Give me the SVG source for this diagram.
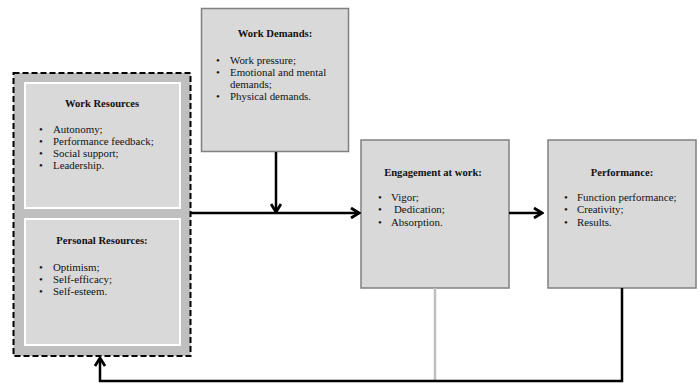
<svg xmlns="http://www.w3.org/2000/svg" width="700" height="385" viewBox="0 0 700 385">
<defs>
<style>
.box{fill:#d9d9d9;stroke:#808080;stroke-width:1.5}
.inner{fill:#d9d9d9;stroke:#ffffff;stroke-width:2}
.t{font-family:"Liberation Serif","Times New Roman",serif;font-size:10.9px;fill:#111}
.h{font-weight:bold;text-anchor:middle;font-size:10.6px}
.ln{fill:none;stroke:#000;stroke-width:2.5}
</style>
<marker id="ah" viewBox="0 0 12 12" refX="10" refY="6" markerWidth="12" markerHeight="12" markerUnits="userSpaceOnUse" orient="auto">
<polyline points="2,1 10,6 2,11" fill="none" stroke="#000" stroke-width="2.8"/>
</marker>
</defs>
<rect width="700" height="385" fill="#fff"/>
<g id="resources">
<rect x="13.5" y="73" width="177" height="283" fill="#bfbfbf" stroke="#000" stroke-width="2" stroke-dasharray="6,3"/>
</g>
<g id="work-resources">
<rect class="inner" x="25" y="83" width="155" height="125"/>
<text class="t h" x="102" y="107">Work Resources</text>
<text class="t" x="39" y="133">•</text><text class="t" x="53" y="133">Autonomy;</text>
<text class="t" x="39" y="145">•</text><text class="t" x="53" y="145">Performance feedback;</text>
<text class="t" x="39" y="157">•</text><text class="t" x="53" y="157">Social support;</text>
<text class="t" x="39" y="169">•</text><text class="t" x="53" y="169">Leadership.</text>
</g>
<g id="personal-resources">
<rect class="inner" x="25" y="219" width="155" height="126"/>
<text class="t h" x="102" y="244">Personal Resources:</text>
<text class="t" x="39" y="271">•</text><text class="t" x="53" y="271">Optimism;</text>
<text class="t" x="39" y="283">•</text><text class="t" x="53" y="283">Self-efficacy;</text>
<text class="t" x="39" y="295">•</text><text class="t" x="53" y="295">Self-esteem.</text>
</g>
<g id="work-demands">
<rect class="box" x="201.5" y="8.5" width="147" height="143"/>
<text class="t h" x="275" y="37">Work Demands:</text>
<text class="t" x="216" y="64">•</text><text class="t" x="230" y="64">Work pressure;</text>
<text class="t" x="216" y="76">•</text><text class="t" x="230" y="76">Emotional and mental</text>
<text class="t" x="230" y="88">demands;</text>
<text class="t" x="216" y="100">•</text><text class="t" x="230" y="100">Physical demands.</text>
</g>
<g id="engagement">
<rect class="box" x="361" y="140" width="148" height="148"/>
<text class="t h" x="433" y="176">Engagement at work:</text>
<text class="t" x="378" y="201">•</text><text class="t" x="391" y="201">Vigor;</text>
<text class="t" x="378" y="213">•</text><text class="t" x="394" y="213">Dedication;</text>
<text class="t" x="378" y="226">•</text><text class="t" x="391" y="226">Absorption.</text>
</g>
<g id="performance">
<rect class="box" x="548" y="140" width="148" height="148"/>
<text class="t h" x="622" y="176">Performance:</text>
<text class="t" x="564" y="201">•</text><text class="t" x="577" y="201">Function performance;</text>
<text class="t" x="564" y="213">•</text><text class="t" x="577" y="213">Creativity;</text>
<text class="t" x="564" y="226">•</text><text class="t" x="577" y="226">Results.</text>
</g>
<g id="connectors">
<line class="ln" x1="276" y1="152" x2="276" y2="212" marker-end="url(#ah)"/>
<line class="ln" x1="191" y1="213" x2="359" y2="213" marker-end="url(#ah)"/>
<line class="ln" x1="509" y1="213" x2="542" y2="213" marker-end="url(#ah)"/>
<line x1="435" y1="288" x2="435" y2="381" stroke="#bfbfbf" stroke-width="2.5"/>
<polyline class="ln" points="622,288 622,381 100,381 100,358" marker-end="url(#ah)"/>
</g>
</svg>
